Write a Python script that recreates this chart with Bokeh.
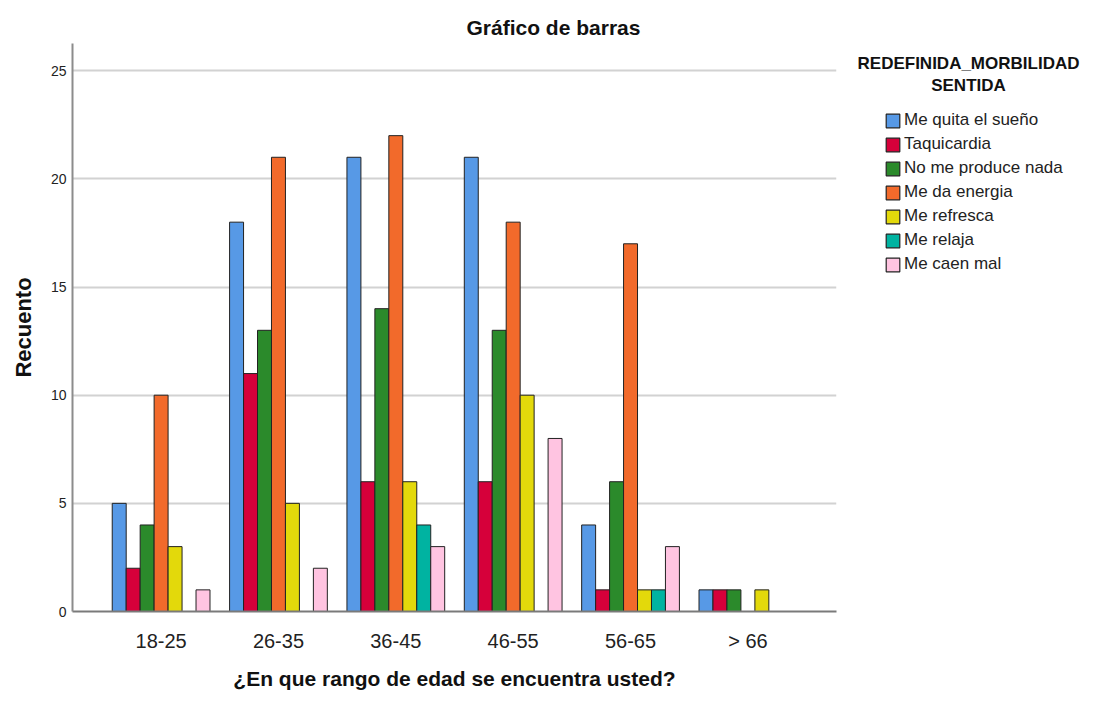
from bokeh.plotting import figure
from bokeh.layouts import row
from bokeh.models import (FactorRange, Range1d, Legend, LegendItem, Title, FixedTicker,
                          ColumnDataSource, Label)
from bokeh.transform import dodge
from bokeh.embed import file_html
from bokeh.resources import INLINE

categories = ["18-25", "26-35", "36-45", "46-55", "56-65", "> 66"]
series = ["Me quita el sueño", "Taquicardia", "No me produce nada", "Me da energia",
          "Me refresca", "Me relaja", "Me caen mal"]
colors = ["#5799e6", "#d6003a", "#2b8a2b", "#f26a2b", "#e3d90b", "#00b3a1", "#ffc4e1"]
legend_title = ["REDEFINIDA_MORBILIDAD", "SENTIDA"]

me_quita_el_sueno = [5, 18, 21, 21, 4, 1]
taquicardia = [2, 11, 6, 6, 1, 1]
no_me_produce_nada = [4, 13, 14, 13, 6, 1]
me_da_energia = [10, 21, 22, 18, 17, 0]
me_refresca = [3, 5, 6, 10, 1, 1]
me_relaja = [0, 0, 4, 0, 1, 0]
me_caen_mal = [1, 2, 3, 8, 3, 0]
values = [me_quita_el_sueno, taquicardia, no_me_produce_nada, me_da_energia,
          me_refresca, me_relaja, me_caen_mal]

FONT = "Liberation Sans"
H = 692
TOP, BOTTOM = 43, 81          # frame borders (px)
FRAME_BOTTOM = H - BOTTOM     # canvas y of frame bottom

# ---------------- main chart ----------------
p = figure(width=840, height=H, output_backend="svg", toolbar_location=None,
           x_range=FactorRange(*categories, range_padding=0.085),
           y_range=Range1d(0, 26.26),
           min_border_left=72, min_border_right=4, min_border_top=TOP, min_border_bottom=BOTTOM)
p.add_layout(Title(text="Gráfico de barras", align="left", offset=394,
                   text_font=FONT, text_font_size="21px", text_font_style="bold",
                   text_color="#111111"), "above")
p.outline_line_color = None
p.background_fill_color = "white"
p.border_fill_color = "white"

bw = 0.119
for j, (name, col, vals) in enumerate(zip(series, colors, values)):
    src = ColumnDataSource(dict(cat=categories, v=vals))
    p.vbar(x=dodge("cat", (j - 3) * bw, range=p.x_range), top="v", width=bw,
           source=src, fill_color=col, line_color="#222222", line_width=1)

p.xgrid.grid_line_color = None
p.ygrid.grid_line_color = "#d2d2d2"
p.ygrid.grid_line_width = 2
p.yaxis.ticker = FixedTicker(ticks=[0, 5, 10, 15, 20, 25])
p.yaxis.axis_line_color = "#8c8c8c"
p.yaxis.axis_line_width = 2
p.yaxis.major_tick_out = 0
p.yaxis.major_tick_in = 0
p.yaxis.minor_tick_line_color = None
p.yaxis.major_label_standoff = 6
p.yaxis.major_label_text_font = FONT
p.yaxis.major_label_text_font_size = "14px"
p.yaxis.major_label_text_color = "#222222"
p.yaxis.axis_label = "Recuento"
p.yaxis.axis_label_text_font = FONT
p.yaxis.axis_label_text_font_size = "22px"
p.yaxis.axis_label_text_font_style = "bold"
p.yaxis.axis_label_text_color = "#111111"
p.yaxis.axis_label_standoff = 12

p.xaxis.axis_line_color = "#7a7a7a"
p.xaxis.axis_line_width = 2
p.xaxis.major_tick_line_color = None
p.xaxis.minor_tick_line_color = None
p.xaxis.major_label_standoff = 12
p.xaxis.major_label_text_font = FONT
p.xaxis.major_label_text_font_size = "20px"
p.xaxis.major_label_text_color = "#222222"
p.xaxis.axis_label = "¿En que rango de edad se encuentra usted?"
p.xaxis.axis_label_text_font = FONT
p.xaxis.axis_label_text_font_size = "21px"
p.xaxis.axis_label_text_font_style = "bold"
p.xaxis.axis_label_text_color = "#111111"
p.xaxis.axis_label_standoff = 12

# ---------------- legend panel ----------------
q = figure(width=244, height=H, output_backend="svg", toolbar_location=None,
           x_range=Range1d(0, 1), y_range=Range1d(0, 1),
           x_axis_location=None, y_axis_location=None,
           min_border_left=0, min_border_right=0, min_border_top=TOP, min_border_bottom=BOTTOM)
q.grid.visible = False
q.outline_line_color = None
q.background_fill_color = "white"
q.border_fill_color = "white"

# legend swatches: hidden placeholder renderers carrying the series styles
items = []
for name, col in zip(series, colors):
    r = q.vbar(x=[0.5], top=[0.5], width=0.1, fill_color=col, line_color="#222222",
               line_width=1.2, visible=False)
    items.append(LegendItem(label=name, renderers=[r]))

# legend: first item centred at canvas y=120, 24 px per item
legend_bottom = 110 + 7 * 20 + 6 * 4
legend = Legend(items=items, location=(44, FRAME_BOTTOM - legend_bottom), orientation="vertical",
                border_line_color=None, background_fill_alpha=0,
                padding=0, margin=0, spacing=4, label_height=20,
                glyph_width=17, glyph_height=17, label_standoff=3,
                label_text_font=FONT, label_text_font_size="17px", label_text_color="#222222")
q.add_layout(legend, "center")

for txt, y in zip(legend_title, [63, 85]):
    q.add_layout(Label(x=128, y=FRAME_BOTTOM - y, x_units="screen", y_units="screen", text=txt,
                       text_align="center", text_baseline="middle",
                       text_font=FONT, text_font_size="17px", text_font_style="bold",
                       text_color="#111111"))

layout = row(p, q, spacing=0)
open("out.html", "w").write(file_html(layout, INLINE))
